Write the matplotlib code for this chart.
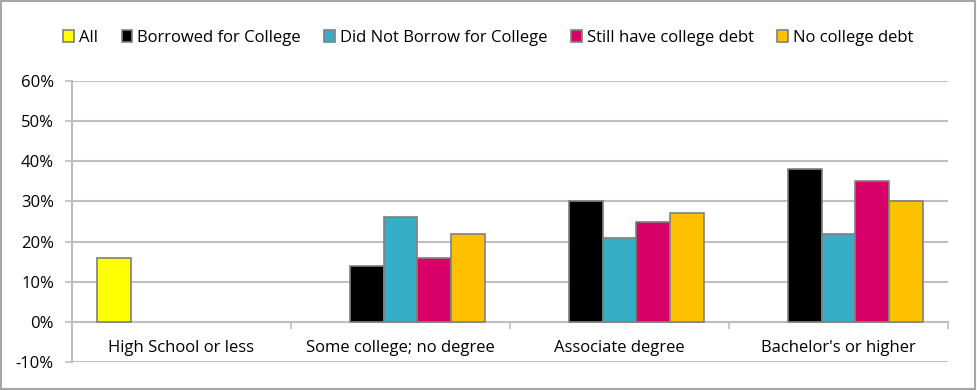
import matplotlib.pyplot as plt
import numpy as np
from matplotlib.patches import Rectangle
from matplotlib.transforms import blended_transform_factory

plt.rcParams["font.family"] = ["Open Sans", "DejaVu Sans"]

categories = ["High School or less", "Some college; no degree", "Associate degree", "Bachelor's or higher"]
series = ["All", "Borrowed for College", "Did Not Borrow for College", "Still have college debt", "No college debt"]
colors = ["#FFFF00", "#000000", "#37AEC6", "#D60068", "#FFC000"]

all_vals = [16, np.nan, np.nan, np.nan]
borrowed = [np.nan, 14, 30, 38]
not_borrowed = [np.nan, 26, 21, 22]
still_debt = [np.nan, 16, 25, 35]
no_debt = [np.nan, 22, 27, 30]
values = [all_vals, borrowed, not_borrowed, still_debt, no_debt]

yticks = [-10, 0, 10, 20, 30, 40, 50, 60]

GRID = "#BFBFBF"
FS = 12

fig = plt.figure(figsize=(9.77, 3.9), dpi=100)
ax = fig.add_axes([72 / 977, 28 / 390, 876 / 977, 281 / 390])

x = np.arange(len(categories))
width = 1 / 6.5
for i, (name, vals, c) in enumerate(zip(series, values, colors)):
    offs = (i - 2) * width
    ax.bar(x + offs, vals, width, color=c, edgecolor="#808080", linewidth=1.2,
           label=name, zorder=3)

ax.set_xlim(-0.5, len(categories) - 0.5)
ax.set_ylim(-10, 60)
ax.set_yticks(yticks)
ax.set_yticklabels([f"{t}%" for t in yticks], fontsize=FS)
ax.yaxis.grid(True, color=GRID, linewidth=1.5, zorder=0)
ax.tick_params(axis="y", length=5, color=GRID, width=1.2, pad=8)

ax.spines["top"].set_visible(False)
ax.spines["right"].set_visible(False)
ax.spines["left"].set_color(GRID)
ax.spines["left"].set_linewidth(1.5)
ax.spines["bottom"].set_position(("data", 0))
ax.spines["bottom"].set_color(GRID)
ax.spines["bottom"].set_linewidth(1.5)
ax.set_xticks(np.arange(-0.5, len(categories)))
ax.set_xticklabels([])
ax.tick_params(axis="x", length=5, color=GRID, width=1.2)

trans = blended_transform_factory(ax.transData, ax.transData)
for xi, cat in zip(x, categories):
    ax.text(xi, -6.4, cat, ha="center", va="center", fontsize=FS, transform=trans)

fig.legend(loc="center", bbox_to_anchor=(0.5, 0.903), ncol=5, frameon=False,
           fontsize=FS, handlelength=0.65, handleheight=0.65, handletextpad=0.3,
           columnspacing=1.4)

fig.patches.append(Rectangle((0.001, 0.002), 0.997, 0.995, transform=fig.transFigure,
                             fill=False, edgecolor="#A6A6A6", linewidth=1.5))

fig.savefig("out.png", dpi=100)
